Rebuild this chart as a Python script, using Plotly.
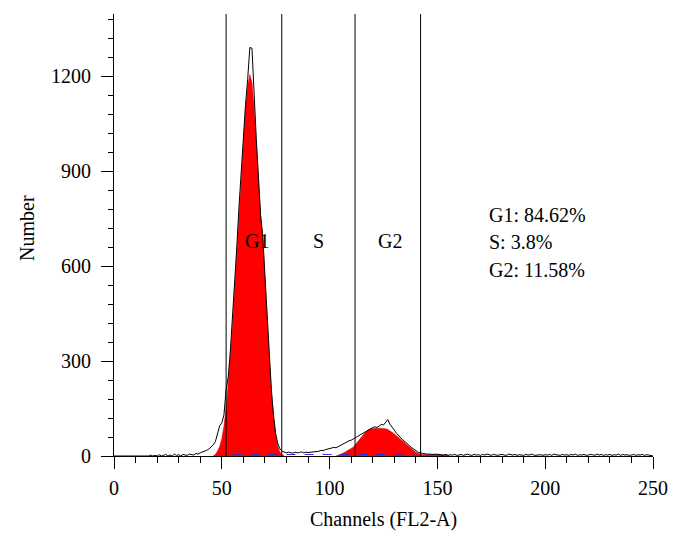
import plotly.graph_objects as go

# ---------------- data ----------------
channels = list(range(0, 251))
raw_counts = [
    0, 0, 0, 0, 0, 0, 0, 0, 0, 0,
    0, 0, 0, 0, 0, 0, 0, 3, 0, 2,
    0, 4, 0, 2, 5, 0, 3, 0, 6, 2,
    4, 0, 5, 3, 2, 6, 4, 3, 8, 6,
    10, 12, 14, 18, 22, 28, 35, 45, 70, 95,
    105, 130, 210, 250, 335, 435, 545, 665, 790, 905,
    1010, 1110, 1190, 1290, 1288, 1125, 1000, 880, 760, 690,
    560, 440, 320, 210, 125, 70, 38, 22, 15, 12,
    10, 12, 11, 9, 12, 10, 11, 13, 10, 12,
    11, 12, 13, 12, 14, 15, 18, 17, 20, 22,
    24, 26, 27, 26, 30, 32, 36, 40, 44, 48,
    50, 53, 58, 62, 66, 70, 75, 80, 84, 88,
    90, 92, 90, 95, 100, 98, 108, 115, 100, 92,
    82, 72, 64, 57, 50, 45, 40, 33, 27, 21,
    15, 12, 10, 8, 7, 6, 6, 5, 5, 6,
    5, 6, 4, 3, 5, 2, 4, 3, 5, 2,
    3, 5, 2, 4, 6, 3, 2, 5, 3, 4,
    2, 5, 3, 6, 4, 2, 5, 3, 2, 4,
    5, 3, 2, 6, 4, 3, 5, 2, 4, 3,
    2, 5, 3, 4, 6, 2, 3, 5, 4, 2,
    4, 3, 5, 2, 6, 4, 3, 2, 5, 3,
    4, 2, 5, 3, 6, 2, 4, 3, 5, 2,
    3, 5, 4, 2, 6, 3, 5, 2, 4, 3,
    5, 2, 4, 3, 6, 2, 5, 3, 4, 2,
    3, 5, 2, 4, 3, 5, 2, 4, 3, 2,
    0,
]

g1_channels = list(range(46, 80))
g1_fit = [0, 5, 15, 30, 55, 95, 150, 230, 320, 420,
          530, 650, 770, 890, 1000, 1100, 1170, 1205, 1180, 1100,
          990, 870, 760, 700, 560, 430, 310, 200, 120, 65,
          30, 12, 5, 0]

g2_channels = list(range(103, 157))
g2_fit = [0, 2, 5, 8, 12, 16, 20, 24, 28, 36,
          45, 54, 62, 70, 77, 82, 86, 87, 88, 88,
          88, 87, 87, 86, 84, 80, 75, 70, 64, 58,
          52, 45, 40, 34, 28, 22, 17, 12, 8, 6,
          5, 5, 5, 5, 5, 5, 5, 5, 5, 5,
          5, 3, 1, 0]

s_channels = [55, 70, 85, 100, 115, 130, 140]
s_fit = [4, 5, 5, 5, 5, 4, 3]

gates = [52, 77.8, 111.8, 142.2]
phase_labels = ["G1", "S", "G2"]
phase_label_x = [66.3, 95, 128]
phase_label_y = 679
stats_text = ["G1: 84.62%", "S: 3.8%", "G2: 11.58%"]
stats_x = 173
stats_y = [760, 675, 588]

x_ticks = [0, 50, 100, 150, 200, 250]
y_ticks = [0, 300, 600, 900, 1200]
y_max = 1396

FONT = "Liberation Serif, Times New Roman, serif"
FS = 20

fig = go.Figure()

fig.add_trace(go.Scatter(x=g1_channels, y=g1_fit, mode="lines", fill="tozeroy",
                         fillcolor="#ff0000", line=dict(color="#e00000", width=0.5),
                         showlegend=False, hoverinfo="skip"))
fig.add_trace(go.Scatter(x=g2_channels, y=g2_fit, mode="lines", fill="tozeroy",
                         fillcolor="#ff0000", line=dict(color="#c00000", width=0.5),
                         showlegend=False, hoverinfo="skip"))
fig.add_trace(go.Scatter(x=s_channels, y=s_fit, mode="lines",
                         line=dict(color="#2a2adf", width=1, dash="dash"),
                         showlegend=False, hoverinfo="skip"))
fig.add_trace(go.Scatter(x=channels, y=raw_counts, mode="lines",
                         line=dict(color="black", width=1),
                         showlegend=False, hoverinfo="skip"))

for g in gates:
    fig.add_shape(type="line", xref="x", yref="y", x0=g, x1=g, y0=0, y1=y_max,
                  line=dict(color="black", width=1))

for lab, lx in zip(phase_labels, phase_label_x):
    fig.add_annotation(x=lx, y=phase_label_y, text=lab, showarrow=False,
                       xanchor="center", yanchor="middle",
                       font=dict(family=FONT, size=FS, color="black"))

for t, ty in zip(stats_text, stats_y):
    fig.add_annotation(x=stats_x, y=ty, text=t, showarrow=False,
                       xanchor="left", yanchor="middle",
                       font=dict(family=FONT, size=FS, color="black"))

fig.add_annotation(xref="paper", yref="paper", x=0.5, y=0, yshift=-63,
                   text="Channels (FL2-A)", showarrow=False,
                   xanchor="center", yanchor="middle",
                   font=dict(family=FONT, size=FS, color="black"))
fig.add_annotation(xref="paper", yref="paper", x=0, xshift=-87, y=0.516,
                   text="Number", textangle=-90, showarrow=False,
                   xanchor="center", yanchor="middle",
                   font=dict(family=FONT, size=FS, color="black"))

fig.update_layout(
    width=682, height=543,
    margin=dict(l=106, r=37, t=6, b=95, autoexpand=False),
    paper_bgcolor="white", plot_bgcolor="white",
    font=dict(family=FONT, size=FS, color="black"),
    xaxis=dict(range=[0, 250], tickvals=x_ticks, ticks="outside", ticklen=12,
               tickwidth=1, tickcolor="black", showline=True, linecolor="black",
               linewidth=1, showgrid=False, zeroline=False, ticklabelstandoff=2,
               minor=dict(dtick=10, ticks="outside", ticklen=6, tickcolor="black",
                          showgrid=False),
               tickfont=dict(family=FONT, size=FS)),
    yaxis=dict(range=[0, y_max], tickvals=y_ticks, ticks="outside", ticklen=12,
               tickwidth=1, tickcolor="black", showline=True, linecolor="black",
               linewidth=1, showgrid=False, zeroline=False, ticklabelstandoff=6,
               minor=dict(dtick=60, ticks="outside", ticklen=5, tickcolor="black",
                          showgrid=False),
               tickfont=dict(family=FONT, size=FS)),
)

fig.write_html("out.html")
